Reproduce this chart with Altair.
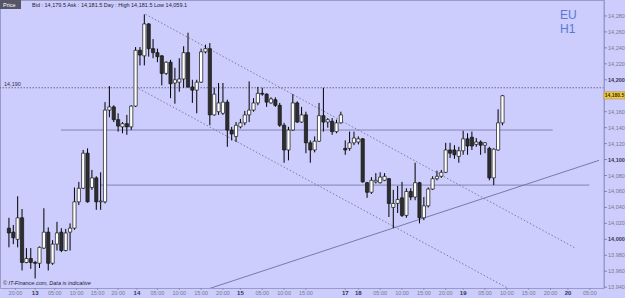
import altair as alt
import pandas as pd

# ---- candle data (hourly), index = candle number ----
opens = [14014,14009,14000,14027,13971,13976,13971,13970,13989,14009,13970,13994,14009,13986,14009,14014,14047,14064,14108,14065,
         14077,14047,14047,14162,14166,14150,14141,14145,14141,14167,14237,14230,14270,14239,14234,14230,14208,14222,14196,14197,
         14201,14234,14191,14187,14197,14235,14239,14156,14160,14158,14172,14137,14129,14141,14146,14156,14162,14171,14183,14182,
         14171,14175,14168,14143,14112,14137,14171,14147,14156,14121,14112,14123,14155,14147,14148,14135,14146,14114,14114,14121,
         14122,14126,14071,14059,14072,14071,14074,14076,14040,14045,14052,14030,14060,14053,14071,14027,14042,14063,14076,14079,
         14084,14112,14112,14104,14111,14126,14128,14119,14122,14118,14114,14077,14112,14146]
highs = [14027,14018,14054,14038,13989,13989,13973,13991,14039,14015,13999,14022,14014,14013,14020,14065,14072,14112,14114,14087,
         14079,14084,14172,14192,14168,14158,14147,14156,14168,14241,14241,14282,14271,14251,14239,14231,14223,14225,14215,14227,
         14242,14259,14200,14200,14239,14244,14246,14190,14196,14196,14175,14141,14147,14151,14161,14198,14177,14191,14190,14183,
         14178,14178,14171,14146,14141,14182,14173,14166,14160,14124,14129,14171,14190,14152,14152,14150,14160,14124,14135,14135,
         14129,14127,14072,14078,14083,14084,14083,14077,14062,14067,14072,14064,14064,14096,14072,14053,14065,14079,14086,14087,
         14121,14121,14118,14116,14136,14133,14135,14127,14124,14122,14116,14114,14163,14181]
lows = [13990,13994,13990,13961,13970,13963,13951,13964,13988,13961,13968,13986,13984,13985,13986,14012,14043,14063,14046,14062,
        14037,14037,14045,14153,14147,14135,14133,14131,14137,14166,14218,14218,14229,14227,14222,14193,14206,14177,14170,14185,
        14190,14190,14171,14158,14196,14233,14143,14155,14156,14156,14116,14124,14122,14139,14143,14147,14160,14168,14180,14166,
        14170,14166,14141,14096,14099,14136,14146,14146,14108,14096,14109,14122,14135,14140,14131,14133,14145,14106,14111,14118,
        14119,14071,14052,14057,14070,14070,14073,14028,14014,14033,14028,14027,14049,14049,14020,14024,14040,14062,14074,14077,
        14083,14102,14101,14096,14106,14106,14112,14116,14106,14108,14074,14068,14111,14143]
closes = [14008,14002,14027,13971,13976,13971,13970,13990,14009,13970,13994,14008,13986,14008,14014,14047,14064,14108,14047,14077,
          14047,14048,14162,14166,14150,14142,14145,14141,14167,14237,14231,14270,14239,14234,14229,14208,14222,14195,14200,14201,
          14234,14191,14187,14197,14235,14239,14156,14182,14171,14172,14137,14132,14143,14146,14156,14162,14171,14183,14182,14172,
          14176,14168,14143,14112,14137,14171,14147,14156,14121,14112,14123,14155,14147,14150,14135,14146,14156,14112,14121,14127,
          14126,14072,14059,14074,14074,14078,14079,14045,14045,14050,14030,14060,14053,14071,14027,14042,14063,14076,14079,14084,
          14112,14108,14106,14111,14126,14117,14117,14122,14118,14121,14077,14113,14146,14180]

# ---- axis labels ----
x_tick_pos = [1.5,6,10.5,15.5,20.3,25,29.3,34,39,44,49,53,58,63,68,77,80,85,90,95,100,104,109,114,119,124,128,133]
x_tick_lab = ["20:00","13","05:00","10:00","15:00","20:00","14","05:00","10:00","15:00","20:00","15","05:00","10:00","15:00",
              "17","18","05:00","10:00","15:00","20:00","19","05:00","10:00","15:00","20:00","20","05:00"]
y_ticks = [13940,13960,13980,14000,14020,14040,14060,14080,14100,14120,14140,14160,14180,14200,14220,14240,14260,14280]

# ---- drawn lines ----
level_dotted = 14190
level_a = 14137
level_a_span = [11.9, 124.5]
level_b = 14068
level_b_span = [20.9, 132.9]
chan_up_x = [31.3, 129.7]
chan_up_y = [14282, 13989]
chan_lo_x = [29.05, 115.5]
chan_lo_y = [14191, 13935]
trend_x = [44.6, 135.1]
trend_y = [13936, 14099]
last_price = 14180.5

BG = "#ccccfd"
FONT = "Liberation Sans"
xs = alt.Scale(domain=[-0.9, 135.1], nice=False, zero=False)
ys = alt.Scale(domain=[13939, 14300], nice=False, zero=False)

df = pd.DataFrame({"i": list(range(len(opens))), "o": opens, "h": highs, "l": lows, "c": closes})
df["bull"] = df["c"] >= df["o"]

X = alt.X("i:Q", scale=xs, axis=None)

wicks = alt.Chart(df).mark_rule(color="#000000", strokeWidth=1).encode(
    x=X, y=alt.Y("l:Q", scale=ys, axis=None), y2="h:Q")
bodies = alt.Chart(df).mark_bar(size=3.2, stroke="#111111", strokeWidth=0.7).encode(
    x=X, y=alt.Y("o:Q", scale=ys, axis=None), y2="c:Q",
    fill=alt.condition("datum.bull", alt.value("#ffffff"), alt.value("#2e2e2e")))

dotted = alt.Chart(pd.DataFrame({"y": [level_dotted]})).mark_rule(
    color="#555566", strokeDash=[1.5, 1.5], strokeWidth=0.8).encode(y=alt.Y("y:Q", scale=ys, axis=None))
dotted_lab = alt.Chart(pd.DataFrame({"y": [level_dotted], "t": ["14,190"]})).mark_text(
    fontSize=5.5, color="#333344", align="left", dy=-4, font=FONT).encode(
    x=alt.value(4), y=alt.Y("y:Q", scale=ys, axis=None), text="t:N")

levels = alt.Chart(pd.DataFrame({"y": [level_a, level_b], "x1": [level_a_span[0], level_b_span[0]],
                                 "x2": [level_a_span[1], level_b_span[1]]})).mark_rule(
    color="#8484b4", strokeWidth=1).encode(
    x=alt.X("x1:Q", scale=xs, axis=None), x2="x2:Q", y=alt.Y("y:Q", scale=ys, axis=None))

def seg(xv, yv, dash, color, w):
    d = pd.DataFrame({"x": xv, "y": yv})
    kw = {"strokeDash": dash} if dash else {}
    m = alt.Chart(d).mark_line(color=color, strokeWidth=w, clip=True, **kw)
    return m.encode(x=alt.X("x:Q", scale=xs, axis=None), y=alt.Y("y:Q", scale=ys, axis=None))

chan_up = seg(chan_up_x, chan_up_y, [1.5, 2], "#6a6a88", 0.8)
chan_lo = seg(chan_lo_x, chan_lo_y, [1.5, 2], "#6a6a88", 0.8)
trend = seg(trend_x, trend_y, None, "#7070a0", 0.9)

# x axis labels
xl = pd.DataFrame({"x": x_tick_pos, "t": x_tick_lab})
xl["day"] = ~xl["t"].str.contains(":")
xl_day = xl[xl["day"]]
xl_hr = xl[~xl["day"]]
xlab_hr = alt.Chart(xl_hr).mark_text(fontSize=5.5, font=FONT, baseline="middle", color="#77778f").encode(
    x=alt.X("x:Q", scale=xs, axis=None), y=alt.value(293), text="t:N")
xlab_day = alt.Chart(xl_day).mark_text(fontSize=6, font=FONT, fontWeight="bold", baseline="middle",
                                       color="#333355").encode(
    x=alt.X("x:Q", scale=xs, axis=None), y=alt.value(293), text="t:N")
xticks = alt.Chart(xl).mark_rule(color="#8888a0", strokeWidth=0.8).encode(
    x=alt.X("x:Q", scale=xs, axis=None), y=alt.value(288), y2=alt.value(290))

# y axis labels (the 14,180 label sits under the last-price box)
yl = pd.DataFrame({"y": y_ticks})
yl["t"] = yl["y"].map(lambda v: f"{v:,}")
yl["major"] = yl["y"] % 100 == 0
yl_vis = yl[(yl["y"] - last_price).abs() > 5]
ylab_minor = alt.Chart(yl_vis[~yl_vis["major"]]).mark_text(fontSize=5.5, font=FONT, align="left", baseline="middle",
                                                           color="#77778f").encode(
    x=alt.value(608), y=alt.Y("y:Q", scale=ys, axis=None), text="t:N")
ylab_major = alt.Chart(yl_vis[yl_vis["major"]]).mark_text(fontSize=5.5, font=FONT, fontWeight="bold", align="left",
                                                          baseline="middle", color="#333355").encode(
    x=alt.value(608), y=alt.Y("y:Q", scale=ys, axis=None), text="t:N")
yticks = alt.Chart(yl).mark_rule(color="#77778f", strokeWidth=0.8).encode(
    x=alt.value(604), x2=alt.value(607), y=alt.Y("y:Q", scale=ys, axis=None))

axis_line = alt.Chart(pd.DataFrame({"a": [0]})).mark_rule(color="#9a9ac8", strokeWidth=1).encode(
    x=alt.value(604), y=alt.value(0), y2=alt.value(288))

lp = pd.DataFrame({"y": [last_price], "y1": [last_price - 4.5], "y2": [last_price + 4.5], "t": ["14,180.5"]})
lp_box = alt.Chart(lp).mark_rect(color="#f2c94a", stroke="#b08a20", strokeWidth=0.5).encode(
    x=alt.value(604), x2=alt.value(625), y=alt.Y("y1:Q", scale=ys, axis=None), y2="y2:Q")
lp_txt = alt.Chart(lp).mark_text(fontSize=5, fontWeight="bold", font=FONT, align="center",
                                 baseline="middle", color="#333300").encode(
    x=alt.value(614.5), y=alt.Y("y:Q", scale=ys, axis=None), text="t:N")

# header, watermark, footer
hdr_box = alt.Chart(pd.DataFrame({"a": [0]})).mark_rect(color="#555566").encode(
    x=alt.value(0), x2=alt.value(21), y=alt.value(0), y2=alt.value(9))
hdr_txt = alt.Chart(pd.DataFrame({"t": ["Price"]})).mark_text(
    fontSize=5.5, color="#ffffff", align="left", baseline="middle", font=FONT).encode(
    x=alt.value(3), y=alt.value(4.5), text="t:N")
hdr_info = alt.Chart(pd.DataFrame({"t": ["Bid : 14,179.5 Ask : 14,181.5 Day : High 14,181.5 Low 14,059.1"]})).mark_text(
    fontSize=5.5, color="#222233", align="left", baseline="middle", font=FONT).encode(
    x=alt.value(32), y=alt.value(4.5), text="t:N")
wm = alt.Chart(pd.DataFrame({"t": ["EU", "H1"], "yy": [15, 29]})).mark_text(
    fontSize=12, color="#5a78d2", align="left", baseline="middle", font=FONT).encode(
    x=alt.value(560), y=alt.Y("yy:Q", scale=None), text="t:N")
foot = alt.Chart(pd.DataFrame({"t": ["© IT-Finance.com, Data is indicative"]})).mark_text(
    fontSize=5.5, fontStyle="italic", color="#222233", align="left", baseline="middle", font=FONT).encode(
    x=alt.value(3), y=alt.value(283), text="t:N")

chart = alt.layer(
    dotted, levels, chan_up, chan_lo, trend, wicks, bodies, dotted_lab,
    axis_line, yticks, ylab_minor, ylab_major, xticks, xlab_hr, xlab_day,
    lp_box, lp_txt, hdr_box, hdr_txt, hdr_info, wm, foot
).properties(
    width=604, height=288,
    autosize=alt.AutoSizeParams(type="none"),
    padding={"left": 0, "top": 0, "right": 21, "bottom": 10},
    background=BG,
).configure_view(stroke="#9a9ac8", strokeWidth=1, fill=BG)

chart.save("out.html", embed_options={"renderer": "svg", "actions": False})
